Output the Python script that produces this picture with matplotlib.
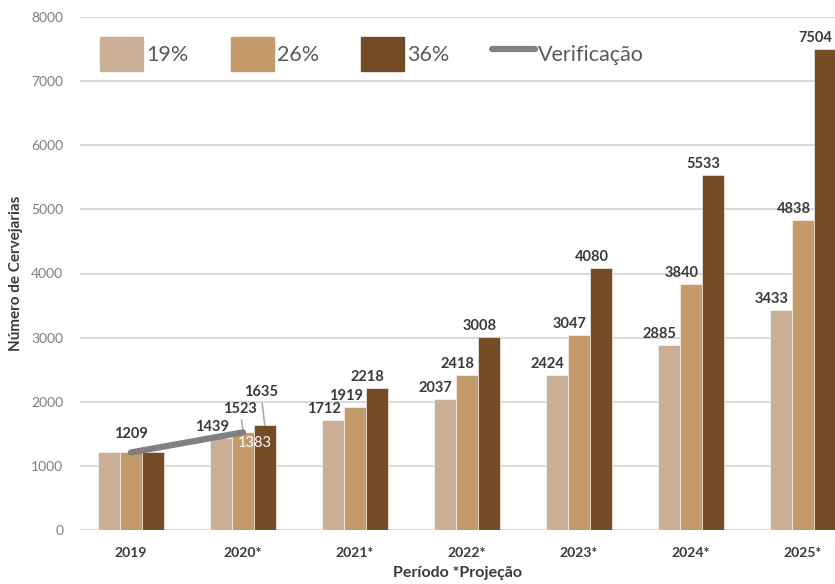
import numpy as np
import matplotlib.pyplot as plt
from matplotlib.patches import Patch
from matplotlib.lines import Line2D

plt.rcParams['font.family'] = ['Lato', 'DejaVu Sans']

years = ['2019', '2020*', '2021*', '2022*', '2023*', '2024*', '2025*']
s19 = [1209, 1439, 1712, 2037, 2424, 2885, 3433]
s26 = [1209, 1523, 1919, 2418, 3047, 3840, 4838]
s36 = [1209, 1635, 2218, 3008, 4080, 5533, 7504]
verif = [1209, 1523]
verif_real = 1383

c19 = '#C9AF95'
c26 = '#C59A6A'
c36 = '#754C26'
dark = '#3a3a3a'

fig = plt.figure(figsize=(8.35, 5.84), dpi=100)
ax = fig.add_axes([80 / 835, 54 / 584, 755 / 835, 513 / 584])

x = np.arange(len(years))
w = 0.196
series = [(s19, c19, '19%', -w), (s26, c26, '26%', 0), (s36, c36, '36%', w)]
for vals, col, lab, off in series:
    ax.bar(x + off, vals, w, color=col, edgecolor='white', linewidth=0.4, zorder=2)

# data labels
for i in range(len(years)):
    if i == 0:
        ax.annotate(str(s26[0]), (x[0], s26[0]), xytext=(0, 11), textcoords='offset pixels',
                    ha='center', va='bottom', fontsize=10.5, fontweight='bold', color=dark)
        continue
    for vals, col, lab, off in series:
        if i == 1 and lab != '19%':
            continue
        ax.annotate(str(vals[i]), (x[i] + off, vals[i]), xytext=(-9, 4), textcoords='offset pixels',
                    ha='center', va='bottom', fontsize=10.5, fontweight='bold', color=dark)

# 2020 labels with leader lines
ax.annotate(str(s26[1]), (x[1], s26[1] + 40), xytext=(-3, 14), textcoords='offset pixels',
            ha='center', va='bottom', fontsize=10.5, fontweight='bold', color=dark,
            arrowprops=dict(arrowstyle='-', color='#aaaaaa', lw=1.2, shrinkA=1, shrinkB=0))
ax.annotate(str(s36[1]), (x[1] + w, s36[1]), xytext=(-4, 26), textcoords='offset pixels',
            ha='center', va='bottom', fontsize=10.5, fontweight='bold', color=dark,
            arrowprops=dict(arrowstyle='-', color='#aaaaaa', lw=1.2, shrinkA=1, shrinkB=0))
ax.annotate(str(verif_real), (x[1], verif_real), xytext=(12, -2), textcoords='offset pixels',
            ha='center', va='center', fontsize=10.5, color='white', zorder=5)

# verification line
ax.plot(x[:2], verif, color='#808080', lw=4.5, solid_capstyle='round', zorder=4)

ax.set_ylim(0, 8000)
ax.set_xlim(-0.455, 6.29)
ax.set_yticks(range(0, 8001, 1000))
ax.yaxis.grid(True, color='#d9d9d9', lw=1.5, zorder=0)
ax.set_axisbelow(True)
for s in ax.spines.values():
    s.set_visible(False)
ax.tick_params(axis='y', length=0, pad=12, labelsize=10, labelcolor='#7f7f7f')
ax.tick_params(axis='x', length=0, pad=12, labelsize=10)
ax.set_xticks(x)
ax.set_xticklabels(years, fontweight='bold', color=dark)
ax.set_ylabel('Número de Cervejarias', fontsize=11, fontweight='bold', color=dark, labelpad=6)
ax.set_xlabel('Período *Projeção', fontsize=11.5, fontweight='bold', color=dark, labelpad=5)

handles = [Patch(color=c19), Patch(color=c26), Patch(color=c36),
           Line2D([0], [0], color='#808080', lw=4.5, solid_capstyle='round')]
leg = ax.legend(handles, ['19%', '26%', '36%', 'Verificação'], ncol=4, frameon=False,
                loc='upper left', bbox_to_anchor=(81 / 835, 566 / 584), bbox_transform=fig.transFigure,
                fontsize=15.5, handlelength=2.0, handleheight=2.0, handletextpad=0.15,
                columnspacing=1.95)
for t in leg.get_texts():
    t.set_color('#5a5a5a')

fig.savefig('out.png', dpi=100)
